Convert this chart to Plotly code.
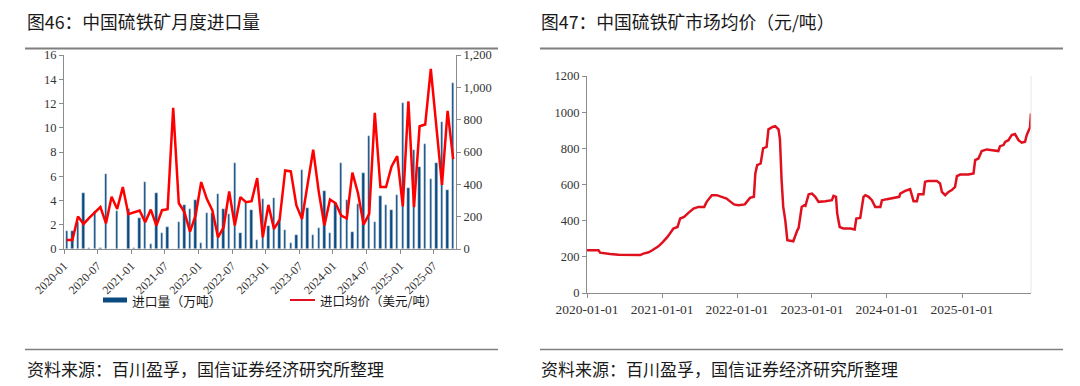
import plotly.graph_objects as go

# ---------------- Data ----------------
months = [f"{y}-{m:02d}" for y in range(2020, 2026) for m in range(1, 13)][:70]

import_volume = [1.52, 1.52, 2.2, 4.66, 0.05, 3.17, 0.05, 6.15, 0, 3.17,
                 0, 3.3, 0.08, 2.54, 5.52, 0.41, 4.6, 1.3, 1.85, 0,
                 2.26, 3.64, 3.3, 4.03, 0.47, 2.95, 3.0, 4.5, 3.34, 2.9,
                 7.06, 1.32, 3.83, 3.23, 0.77, 4.14, 1.93, 4.22, 2.4, 1.57,
                 0.47, 1.19, 6.54, 3.42, 1.19, 1.77, 4.77, 1.35, 3.78, 7.06,
                 4.08, 1.41, 3.7, 6.26, 9.35, 2.2, 4.39, 3.64, 3.23, 4.44,
                 12.08, 5.02, 8.14, 6.73, 8.63, 5.74, 7.12, 10.51, 4.88, 13.66]

import_price = [56, 56, 201, 155, 192, 228, 259, 159, 323, 248,
                383, 215, 228, 238, 166, 244, 145, 240, 246, 873,
                283, 228, 108, 207, 414, 310, 238, 72, 134, 356,
                145, 321, 290, 296, 439, 72, 273, 124, 180, 486,
                480, 269, 186, 403, 614, 352, 145, 306, 283, 207,
                190, 472, 345, 151, 217, 842, 383, 383, 511, 575,
                263, 914, 259, 759, 770, 1114, 760, 397, 854, 556]

left_tick_labels = months[::6]

market_dates = ["2020-01-01", "2020-02-26", "2020-03-05", "2020-03-30", "2020-04-23", "2020-06-03",
                "2020-07-30", "2020-09-16", "2020-10-02", "2020-10-27", "2020-11-12", "2020-11-28",
                "2020-12-14", "2021-01-04", "2021-01-27", "2021-02-25", "2021-03-17", "2021-03-30",
                "2021-04-18", "2021-05-09", "2021-06-03", "2021-06-27", "2021-07-25", "2021-08-06",
                "2021-08-31", "2021-09-24", "2021-10-18", "2021-11-11", "2021-12-01", "2021-12-17",
                "2022-01-07", "2022-02-08", "2022-03-05", "2022-03-24", "2022-03-31", "2022-04-09",
                "2022-04-26", "2022-05-08", "2022-05-25", "2022-06-03", "2022-06-23", "2022-07-06",
                "2022-07-22", "2022-07-29", "2022-08-06", "2022-08-14", "2022-08-24", "2022-09-03",
                "2022-10-02", "2022-10-12", "2022-10-21", "2022-10-28", "2022-11-12", "2022-11-23",
                "2022-11-30", "2022-12-16", "2023-01-01", "2023-01-17", "2023-02-02", "2023-03-07",
                "2023-04-08", "2023-04-16", "2023-04-28", "2023-05-04", "2023-05-16", "2023-06-04",
                "2023-07-07", "2023-07-28", "2023-08-05", "2023-08-24", "2023-09-09", "2023-09-18",
                "2023-10-04", "2023-10-20", "2023-11-05", "2023-11-30", "2023-12-08", "2024-01-01",
                "2024-02-02", "2024-03-01", "2024-03-06", "2024-03-30", "2024-04-23", "2024-05-02",
                "2024-05-10", "2024-05-26", "2024-06-03", "2024-06-27", "2024-07-05", "2024-07-22",
                "2024-08-31", "2024-09-16", "2024-09-25", "2024-10-11", "2024-10-27", "2024-11-12",
                "2024-11-28", "2024-12-07", "2024-12-23", "2025-02-01", "2025-02-26", "2025-03-06",
                "2025-03-22", "2025-04-07", "2025-05-02", "2025-06-27", "2025-07-05", "2025-07-22",
                "2025-07-30", "2025-08-15", "2025-08-31", "2025-09-16", "2025-10-03", "2025-10-19",
                "2025-11-04", "2025-11-12", "2025-11-25", "2025-11-28", "2025-12-03"]

market_price = [236, 236, 223, 218, 216, 212,
                210, 210, 218, 225, 235, 245,
                258, 282, 310, 356, 365, 412,
                421, 443, 467, 476, 476, 504,
                541, 541, 532, 522, 504, 490,
                485, 490, 526, 532, 661, 707,
                716, 800, 808, 905, 918, 923,
                905, 850, 624, 476, 402, 292,
                286, 320, 345, 360, 476, 485,
                482, 546, 550, 532, 504, 508,
                513, 537, 532, 439, 365, 356,
                356, 351, 412, 415, 532, 541,
                532, 513, 476, 476, 513, 519,
                526, 532, 550, 565, 574, 532,
                508, 508, 546, 546, 615, 620,
                620, 606, 559, 541, 559, 569,
                587, 646, 655, 655, 661, 735,
                744, 785, 794, 785, 812, 818,
                836, 845, 873, 879, 845, 831,
                836, 873, 910, 915, 993]

right_year_ticks = ["2020-01-01", "2021-01-01", "2022-01-01", "2023-01-01", "2024-01-01", "2025-01-01"]

# ---------------- Figure ----------------
# page body has an 8px default margin, so the figure is offset by 8px
OFF = 8
W, H = 1072, 378
def px(x): return (x - OFF) / W
def py(y): return 1 - (y - OFF) / H

BAR_C = "#0b4a7e"
RED = "#ff0000"
AX = "#8c8c8c"
SERIF = "Liberation Serif, Times New Roman, serif"
CJK = "Noto Sans CJK SC, sans-serif"
TXT = "#333333"

fig = go.Figure()

idx = list(range(len(months)))
fig.add_trace(go.Bar(x=idx, y=import_volume, marker_color=BAR_C, width=0.45,
                     name="进口量（万吨）", xaxis="x", yaxis="y", showlegend=False))
fig.add_trace(go.Scatter(x=idx, y=import_price, mode="lines", line=dict(color=RED, width=2.5),
                         name="进口均价（美元/吨）", xaxis="x", yaxis="y2", showlegend=False))
fig.add_trace(go.Scatter(x=market_dates, y=market_price, mode="lines",
                         line=dict(color="#e0101e", width=2.5),
                         name="市场均价", xaxis="x2", yaxis="y3", showlegend=False))

tickvals_left = [i - 0.5 for i in range(0, len(months), 6)]

def axis_common(size=12):
    return dict(showline=True, linecolor=AX, linewidth=1.2, ticks="outside", ticklen=4,
                tickcolor=AX, showgrid=False, zeroline=False, automargin=False,
                tickfont=dict(family=SERIF, size=size, color=TXT))

fig.update_layout(
    width=W, height=H, margin=dict(l=0, r=0, t=0, b=0, pad=0), autosize=False,
    paper_bgcolor="white", plot_bgcolor="white",
    font=dict(family=SERIF, size=12, color=TXT),
    bargap=0,
    xaxis=dict(domain=[px(64), px(456)], range=[-0.5, len(months) - 0.5],
               tickvals=tickvals_left, ticktext=left_tick_labels, tickangle=-45,
               anchor="y", **axis_common(12)),
    yaxis=dict(domain=[py(249), py(55)], range=[0, 16], dtick=2, anchor="x", **axis_common(12.5)),
    yaxis2=dict(domain=[py(249), py(55)], range=[0, 1200], dtick=200, overlaying="y",
                side="right", anchor="x", tickformat=",d", **axis_common(12.5)),
    xaxis2=dict(domain=[px(587), px(1031)], type="date",
                range=["2020-01-01", "2025-12-03"],
                tickvals=right_year_ticks, ticktext=right_year_ticks,
                anchor="y3", **axis_common(13.5)),
    yaxis3=dict(domain=[py(293), py(76)], range=[0, 1200], dtick=200, anchor="x2", **axis_common(12.5)),
)

shapes = []
for x0, x1 in [(25, 498), (540, 1063)]:
    shapes.append(dict(type="line", xref="paper", yref="paper", x0=px(x0), x1=px(x1),
                       y0=py(48.5), y1=py(48.5), line=dict(color="#7f7f7f", width=2)))
    shapes.append(dict(type="line", xref="paper", yref="paper", x0=px(x0), x1=px(x1),
                       y0=py(349.5), y1=py(349.5), line=dict(color="#7f7f7f", width=1.5)))
shapes.append(dict(type="line", xref="paper", yref="paper", x0=px(1031), x1=px(1031),
                   y0=py(293), y1=py(76), line=dict(color="#e6e6e6", width=1)))
shapes.append(dict(type="rect", xref="paper", yref="paper", x0=px(103), x1=px(127),
                   y0=py(302.5), y1=py(297.5), fillcolor=BAR_C, line=dict(width=0)))
shapes.append(dict(type="line", xref="paper", yref="paper", x0=px(290), x1=px(315),
                   y0=py(300), y1=py(300), line=dict(color="#e0101e", width=2)))

annotations = [
    dict(text="图46：中国硫铁矿月度进口量", x=px(25), y=py(21), xref="paper", yref="paper",
         xanchor="left", yanchor="middle", showarrow=False,
         font=dict(family=CJK, size=17.8, color="#1a1a1a")),
    dict(text="图47：中国硫铁矿市场均价（元/吨）", x=px(539), y=py(21), xref="paper", yref="paper",
         xanchor="left", yanchor="middle", showarrow=False,
         font=dict(family=CJK, size=17.8, color="#1a1a1a")),
    dict(text="资料来源：百川盈孚，国信证券经济研究所整理", x=px(25), y=py(368), xref="paper", yref="paper",
         xanchor="left", yanchor="middle", showarrow=False,
         font=dict(family=CJK, size=17, color="#1a1a1a")),
    dict(text="资料来源：百川盈孚，国信证券经济研究所整理", x=px(539), y=py(368), xref="paper", yref="paper",
         xanchor="left", yanchor="middle", showarrow=False,
         font=dict(family=CJK, size=17, color="#1a1a1a")),
    dict(text="进口量（万吨）", x=px(130), y=py(300), xref="paper", yref="paper",
         xanchor="left", yanchor="middle", showarrow=False,
         font=dict(family=CJK, size=12.8, color="#1a1a1a")),
    dict(text="进口均价（美元/吨）", x=px(318), y=py(300), xref="paper", yref="paper",
         xanchor="left", yanchor="middle", showarrow=False,
         font=dict(family=CJK, size=12.5, color="#1a1a1a")),
]

fig.update_layout(shapes=shapes, annotations=annotations)
fig.write_html("out.html")
